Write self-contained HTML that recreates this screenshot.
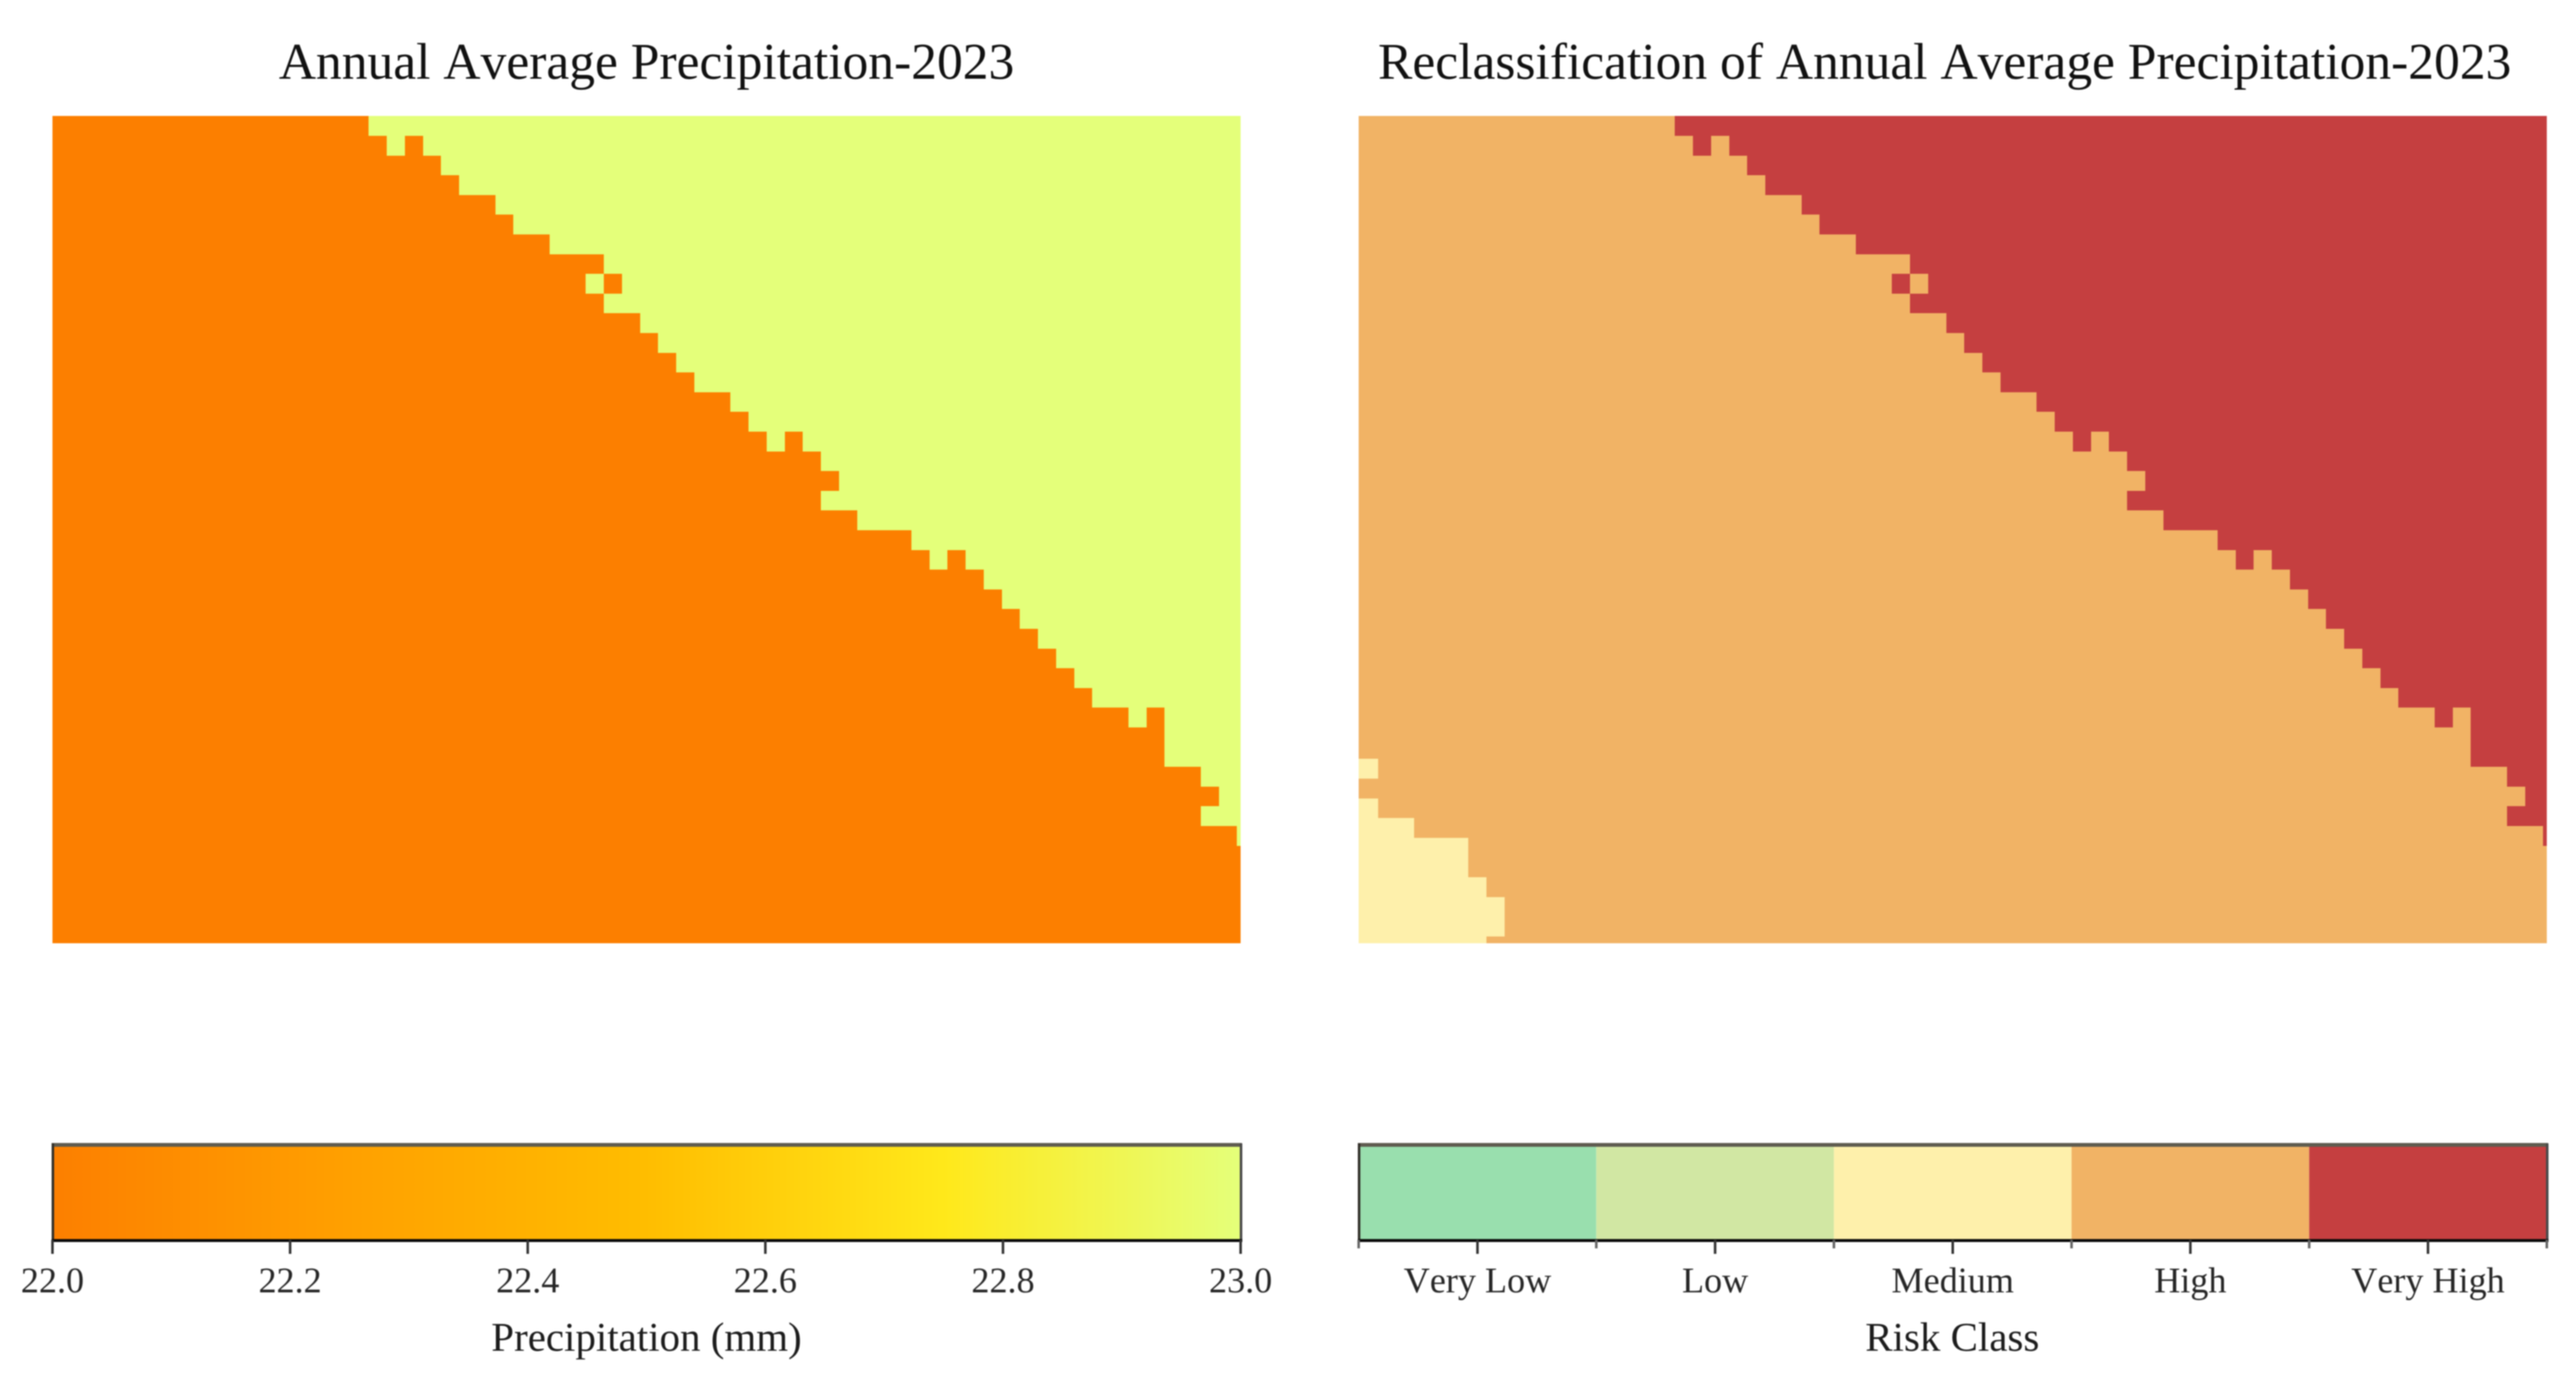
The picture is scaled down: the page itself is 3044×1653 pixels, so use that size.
<!DOCTYPE html>
<html lang="en">
<head>
<meta charset="utf-8">
<title>Annual Average Precipitation-2023</title>
<style>
html,body{margin:0;padding:0;background:#fff;width:3044px;height:1653px;overflow:hidden}
svg{display:block;filter:blur(.9px)}
text{font-family:"Liberation Serif",serif;fill:#1c1c1c;font-kerning:none;text-rendering:geometricPrecision}
.title{font-size:60.9px;text-anchor:middle;fill:#111}
.tick{font-size:42.7px;text-anchor:middle;fill:#262626}
.axis{font-size:48.4px;text-anchor:middle;fill:#1c1c1c}
</style>
</head>
<body>
<svg id="figure" xmlns="http://www.w3.org/2000/svg" width="3044" height="1653" viewBox="0 0 3044 1653">
  <defs>
    <linearGradient id="wistia" x1="0" x2="1" y1="0" y2="0"></linearGradient>
  </defs>
  <text class="title" x="764" y="93">Annual Average Precipitation-2023</text>
  <text class="title" x="2298" y="93">Reclassification of Annual Average Precipitation-2023</text>
  <g id="precip-map" shape-rendering="crispEdges"></g>
  <g id="risk-map" shape-rendering="crispEdges"></g>
  <g id="precip-bar"></g>
  <g id="risk-bar"></g>
  <text class="axis" x="764" y="1596">Precipitation (mm)</text>
  <text class="axis" x="2307" y="1596">Risk Class</text>
</svg>
<script>
// Precipitation values in use (mm); runs alternate low, high starting at low
const precipLevels = [22.0, 23.0];
const precipRuns = [
[18,49],[19,1,1,46],[22,45],[23,44],[25,42],[26,41],[28,39],[31,36],[30,1,1,35],[31,36],
[33,34],[34,33],[35,32],[36,31],[38,29],[39,28],[40,1,1,25],[43,24],[44,23],[43,24],
[45,22],[48,19],[49,1,1,16],[52,15],[53,14],[54,13],[55,12],[56,11],[57,10],[58,9],
[60,1,1,5],[62,5],[62,5],[64,3],[65,2],[64,3],[66,1],[67],[67],[67],[67],[67]
];
// Risk class indexes in use; runs alternate High, Very High starting at High
const riskLevels = [3, 4];
const riskRuns = [
[18,49],[19,1,1,46],[22,45],[23,44],[25,42],[26,41],[28,39],[31,36],[30,1,1,35],[31,36],
[33,34],[34,33],[35,32],[36,31],[38,29],[39,28],[40,1,1,25],[43,24],[44,23],[43,24],
[45,22],[48,19],[49,1,1,16],[52,15],[53,14],[54,13],[55,12],[56,11],[57,10],[58,9],
[60,1,1,5],[62,5],[62,5],[64,3],[65,2],[64,3],[66,1],[67],[67],[67],[67],[67]
];
// Cells of Medium class per row in the lower-left patch
const mediumCounts = [1,0,1,3,6,6,7,8,8,7];
const mediumClass = 2;
// Colour bars
const precipDomain = [22.0, 23.0];
const precipTicks = [22.0, 22.2, 22.4, 22.6, 22.8, 23.0];
const precipTickLabels = ["22.0", "22.2", "22.4", "22.6", "22.8", "23.0"];
const wistiaStops = [0, 0.25, 0.5, 0.75, 1];
const wistiaColors = ["#fc7f00", "#ffa000", "#ffbd00", "#ffe81a", "#e4ff7a"];
const riskLabels = ["Very Low", "Low", "Medium", "High", "Very High"];
const riskColors = ["#99dfae", "#d1e7a3", "#fef0ab", "#f1b365", "#c53f40"];

const NS = "http://www.w3.org/2000/svg";
const mapTop = 135.5, mapBottom = 1114.3, mapWidth = 1404;
const leftX = 62, rightX = 1605.5;
const cellW = 21.375, cellH = 23.3;
const gridDX = -11.05, gridY0 = 137.2;
const barTop = 1354, barBottom = 1465;

function make(tag, parent, attrs) {
  const el = document.createElementNS(NS, tag);
  for (const k in attrs) el.setAttribute(k, attrs[k]);
  parent.appendChild(el);
  return el;
}
function clamp(v, a, b) { return Math.max(a, Math.min(b, v)); }
function hex(c) { return [1, 3, 5].map(i => parseInt(c.substr(i, 2), 16)); }
function wistia(t) {
  t = clamp(t, 0, 1);
  for (let i = 1; i < wistiaStops.length; i++) {
    if (t <= wistiaStops[i]) {
      const f = (t - wistiaStops[i - 1]) / (wistiaStops[i] - wistiaStops[i - 1]);
      const a = hex(wistiaColors[i - 1]), b = hex(wistiaColors[i]);
      return "rgb(" + a.map((v, j) => Math.round(v + (b[j] - v) * f)).join(",") + ")";
    }
  }
  return wistiaColors[wistiaColors.length - 1];
}
function precipColor(v) { return wistia((v - precipDomain[0]) / (precipDomain[1] - precipDomain[0])); }
function riskColor(v) { return riskColors[v]; }
function colEdge(originX, c) { return clamp(originX + gridDX + c * cellW, originX, originX + mapWidth); }
function rowEdge(r) { return clamp(gridY0 + r * cellH, mapTop, mapBottom); }
function expandRuns(runs, levels) {
  const cells = [];
  runs.forEach((n, i) => { for (let k = 0; k < n; k++) cells.push(levels[i % 2]); });
  return cells;
}

// Heatmap cells
const precipMap = document.getElementById("precip-map");
precipRuns.forEach((runs, r) => {
  expandRuns(runs, precipLevels).forEach((value, c) => {
    const x0 = colEdge(leftX, c), x1 = colEdge(leftX, c + 1), y0 = rowEdge(r), y1 = rowEdge(r + 1);
    const el = make("rect", precipMap, { x: x0, y: y0, width: x1 - x0, height: y1 - y0, fill: precipColor(value) });
    
    
  });
});
const riskMap = document.getElementById("risk-map");
riskRuns.forEach((runs, r) => {
  expandRuns(runs, riskLevels).forEach((value, c) => {
    const x0 = colEdge(rightX, c), x1 = colEdge(rightX, c + 1), y0 = rowEdge(r), y1 = rowEdge(r + 1);
    const el = make("rect", riskMap, { x: x0, y: y0, width: x1 - x0, height: y1 - y0, fill: riskColor(value) });
    
    
  });
});
// Medium-class patch sits on its own offset grid
const patchX0 = rightX + 1.4, patchY0 = 896.7;
function patchColEdge(c) { return clamp(patchX0 + c * cellW, rightX, rightX + mapWidth); }
function patchRowEdge(r) { return clamp(patchY0 + r * cellH, mapTop, mapBottom); }
mediumCounts.forEach((count, r) => {
  for (let c = 0; c < count; c++) {
    const x0 = c === 0 ? rightX : patchColEdge(c), x1 = patchColEdge(c + 1), y0 = patchRowEdge(r), y1 = patchRowEdge(r + 1);
    const el = make("rect", riskMap, { x: x0, y: y0, width: x1 - x0, height: y1 - y0, fill: riskColor(mediumClass) });
    
    
  }
});

// Continuous colour bar
const gradient = document.getElementById("wistia");
wistiaStops.forEach((s, i) => {
  const stop = make("stop", gradient, { offset: s, "stop-color": wistiaColors[i] });
  
  
});
function precipBarX(v) { return leftX + (v - precipDomain[0]) / (precipDomain[1] - precipDomain[0]) * mapWidth; }
function riskBarX(i) { return rightX + i * mapWidth / riskLabels.length; }
function frame(parent, x0, name) {
  const parts = [
    { x: x0 - 1, y: 1350.5, width: mapWidth + 2.5, height: 4.5, fill: "#5f5c50" },
    { x: x0 - 1, y: 1351, width: 3, height: barBottom - 1351, fill: "#33302a" },
    { x: x0 + mapWidth - 1, y: 1351, width: 3, height: barBottom - 1351, fill: "#4a4a4a" },
    { x: x0 - 1, y: barBottom - 1, width: mapWidth + 3, height: 3.5, fill: "#0a0a0a" }
  ];
  parts.forEach(p => {
    const el = make("rect", parent, p);
    
    
  });
}
const precipBar = document.getElementById("precip-bar");
const precipFill = make("rect", precipBar, { x: leftX, y: barTop, width: mapWidth, height: barBottom - barTop, fill: "url(#wistia)" });


frame(precipBar, leftX, 'precipitation-colorbar-frame');
precipTicks.forEach((v, i) => {
  const x = precipBarX(v);
  const tick = make("rect", precipBar, { x: x - 1.5, y: barBottom, width: 3, height: 16.5, fill: "#333" });
  
  
  const label = make("text", precipBar, { class: "tick", x: x, y: 1527 });
  label.textContent = precipTickLabels[i];
  
  
});

// Discrete colour bar
const riskBar = document.getElementById("risk-bar");
riskLabels.forEach((name, i) => {
  const x0 = riskBarX(i), x1 = riskBarX(i + 1);
  const seg = make("rect", riskBar, { x: x0, y: barTop, width: x1 - x0, height: barBottom - barTop, fill: riskColors[i] });
  
  
});
frame(riskBar, rightX, 'risk-colorbar-frame');
for (let i = 0; i <= riskLabels.length; i++) {
  const edge = make("rect", riskBar, { x: riskBarX(i) - 1.5, y: barBottom, width: 3, height: 10, fill: "#666" });
  
  
}
riskLabels.forEach((name, i) => {
  const x = riskBarX(i + 0.5);
  const tick = make("rect", riskBar, { x: x - 1.5, y: barBottom, width: 3, height: 16.5, fill: "#333" });
  
  
  const label = make("text", riskBar, { class: "tick", x: x, y: 1527 });
  label.textContent = name;
  
  
});
</script>
</body>
</html>
